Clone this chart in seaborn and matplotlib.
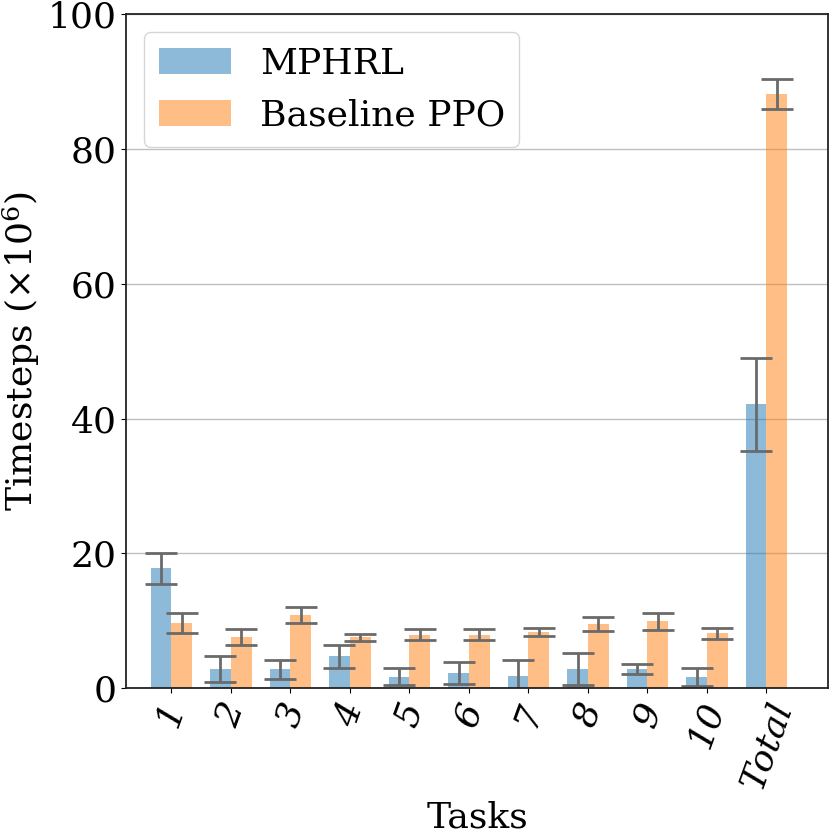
import numpy as np
import pandas as pd
import matplotlib
matplotlib.use('Agg')
import matplotlib.pyplot as plt
import seaborn as sns

# Values (timesteps x 1e6)
tasks = ['1', '2', '3', '4', '5', '6', '7', '8', '9', '10', 'Total']
mphrl_mean = [17.8, 2.8, 2.8, 4.7, 1.7, 2.25, 1.8, 2.8, 2.8, 1.65, 42.1]
mphrl_err = [2.3, 1.9, 1.4, 1.7, 1.3, 1.6, 2.4, 2.4, 0.7, 1.3, 6.9]
ppo_mean = [9.7, 7.6, 10.8, 7.55, 7.9, 7.9, 8.3, 9.5, 9.9, 8.1, 88.2]
ppo_err = [1.5, 1.2, 1.2, 0.5, 0.8, 0.8, 0.65, 1.0, 1.3, 0.8, 2.2]
methods = ['MPHRL', 'Baseline PPO']

sns.set_style('ticks')
plt.rcParams['font.family'] = ['DejaVu Serif']
plt.rcParams['mathtext.fontset'] = 'dejavuserif'
for k in ['text.color', 'axes.labelcolor', 'xtick.color', 'ytick.color']:
    plt.rcParams[k] = 'black'

df = pd.DataFrame({
    'Task': tasks * 2,
    'Method': [methods[0]] * len(tasks) + [methods[1]] * len(tasks),
    'Timesteps': mphrl_mean + ppo_mean,
})

fig = plt.figure(figsize=(8.3, 8.35), dpi=100)
ax = fig.add_axes([0.152, 0.176, 0.846, 0.807])

sns.barplot(data=df, x='Task', y='Timesteps', hue='Method', order=tasks,
            hue_order=methods, palette=['tab:blue', 'tab:orange'],
            saturation=1, alpha=0.5, width=0.7, errorbar=None, ax=ax,
            linewidth=0)

# error bars placed at the bar centres seaborn produced
errs = mphrl_err + ppo_err
means = mphrl_mean + ppo_mean
xs = [p.get_x() + p.get_width() / 2 for p in ax.patches[:len(means)]]
ax.errorbar(xs, means, yerr=errs, fmt='none', ecolor='#6a6a6a',
            elinewidth=2, capsize=11.5, capthick=2)

ax.set_ylim(0, 100)
ax.set_xlim(-0.76, 11.04)
ax.set_yticks([0, 20, 40, 60, 80, 100])
ax.yaxis.grid(True, color='#c0c0c0', lw=1)
ax.set_axisbelow(True)
for s in ax.spines.values():
    s.set_visible(True)
    s.set_color('#222222')
    s.set_linewidth(1.3)

ax.tick_params(axis='both', labelsize=26)
ax.set_xticks(range(len(tasks)))
ax.set_xticklabels(tasks, rotation=70, style='italic')
ax.set_xlabel('Tasks', fontsize=26)
ax.set_ylabel(r'Timesteps ($\times 10^6$)', fontsize=26)

leg = ax.legend(loc='upper left', fontsize=26, frameon=True)
leg.get_frame().set_edgecolor('#cccccc')

fig.savefig('out.png', dpi=100)
